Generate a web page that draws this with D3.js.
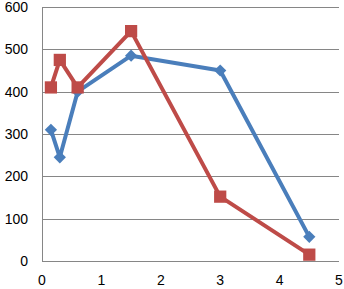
<!DOCTYPE html>
<html>
<head>
<meta charset="utf-8">
<script src="https://cdn.jsdelivr.net/npm/d3@7"></script>
<style>
  body { margin: 0; background: #fff; }
  text { font-family: "Liberation Sans", Arial, sans-serif; font-size: 14px; fill: #000; }
</style>
</head>
<body>
<div id="chart"></div>
<script>
// Chart values
var xValues = [0.15, 0.3, 0.6, 1.5, 3, 4.5]
var blueValues = [310, 245, 400, 485, 450, 57]
var redValues = [410, 475, 410, 543, 152, 15]
var xTicks = [0, 1, 2, 3, 4, 5]
var yTicks = [0, 100, 200, 300, 400, 500, 600]

// Layout
var width = 344
var height = 289
var margin = { top: 7, right: 5, bottom: 28, left: 42 }
var plotW = width - margin.left - margin.right
var plotH = height - margin.top - margin.bottom

var svg = d3.select('#chart').append('svg')
  .attr('width', width)
  .attr('height', height)

var g = svg.append('g')
  .attr('transform', 'translate(' + margin.left + ',' + margin.top + ')')

var x = d3.scaleLinear().domain([0, 5]).range([0, plotW])
var y = d3.scaleLinear().domain([0, 600]).range([plotH, 0])

// Horizontal gridlines
g.selectAll('.grid')
  .data(yTicks)
  .enter().append('line')
  .attr('x1', 0)
  .attr('x2', plotW)
  .attr('y1', function (d) { return Math.round(y(d)) + 0.5 })
  .attr('y2', function (d) { return Math.round(y(d)) + 0.5 })
  .style('stroke', '#868686')
  .style('stroke-width', 1)

// Left axis line
g.append('line')
  .attr('x1', 0.5).attr('x2', 0.5)
  .attr('y1', 0).attr('y2', plotH)
  .style('stroke', '#868686')

// Y labels
g.selectAll('.ylab')
  .data(yTicks)
  .enter().append('text')
  .attr('x', -14)
  .attr('y', function (d) { return y(d) })
  .attr('dy', '.35em')
  .attr('text-anchor', 'end')
  .text(function (d) { return d })

// X labels
g.selectAll('.xlab')
  .data(xTicks)
  .enter().append('text')
  .attr('x', function (d) { return x(d) })
  .attr('y', plotH + 24)
  .attr('text-anchor', 'middle')
  .text(function (d) { return d })

var line = d3.line()
  .x(function (d, i) { return x(xValues[i]) })
  .y(function (d) { return y(d) })

function drawSeries (values, colour, size, angle) {
  g.append('path')
    .datum(values)
    .attr('d', line)
    .style('fill', 'none')
    .style('stroke', colour)
    .style('stroke-width', 4)
    .style('stroke-linejoin', 'round')

  g.selectAll(null)
    .data(values)
    .enter().append('path')
    .attr('d', d3.symbol().type(d3.symbolSquare).size(size))
    .attr('transform', function (d, i) {
      return 'translate(' + x(xValues[i]) + ',' + y(d) + ') rotate(' + angle + ')'
    })
    .style('fill', colour)
}

drawSeries(blueValues, '#4A7EBB', 75, 45)
drawSeries(redValues, '#BE4B48', 150, 0)
</script>
</body>
</html>
